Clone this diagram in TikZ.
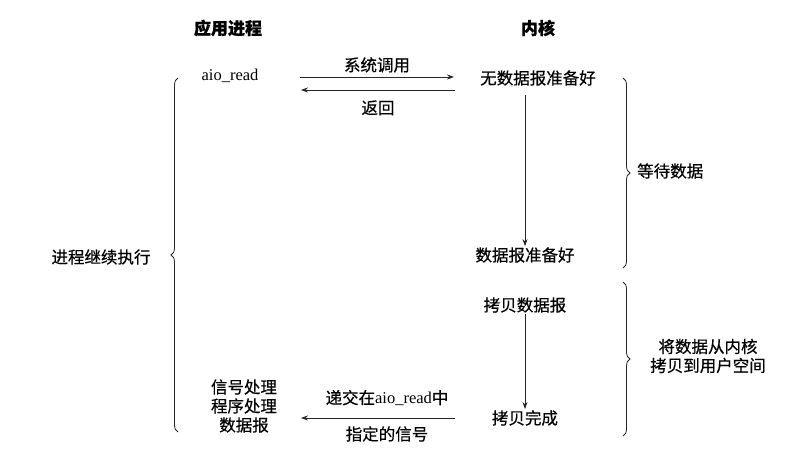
\documentclass[tikz,border=0pt]{standalone}
\usepackage{fontspec}
\setmainfont{Noto Sans CJK SC}[FakeBold=0.5]
\newfontfamily\lat{Liberation Serif}
\usetikzlibrary{arrows.meta,decorations.pathreplacing}
\begin{document}
\begin{tikzpicture}[x=1pt,y=-1pt,
  txt/.style={inner sep=1pt,font=\fontsize{16.5}{19}\selectfont},
  ttl/.style={inner sep=1pt,font=\fontsize{17}{19}\selectfont\bfseries},
  arr/.style={draw=black!85,line width=0.8pt,-{Stealth[length=7pt,width=5pt]}},
  brc/.style={draw=black!85,line width=0.8pt,decorate,decoration={brace,amplitude=7pt}}]
\useasboundingbox[fill=white] (0,0) rectangle (798,457);
% titles
\node[ttl] (tapp) at (228,28) {应用进程};
\node[ttl] (tker) at (538,28) {内核};
% left column
\node[txt] (aio) at (230,76) {\lat aio\_read};
\node[txt,align=center] (sig) at (244,406) {信号处理\\程序处理\\数据报};
% kernel column
\node[txt] (nodata) at (538,78) {无数据报准备好};
\node[txt] (ready) at (525,255) {数据报准备好};
\node[txt] (copy) at (525,305) {拷贝数据报};
\node[txt] (done) at (525,418) {拷贝完成};
% arrows top
\coordinate (s1) at (300,77);
\coordinate (e1) at (454,77);
\draw[arr] (s1) -- node[txt,above=3pt] {系统调用} (e1);
\coordinate (s2) at (455,90);
\coordinate (e2) at (301,90);
\draw[arr] (s2) -- node[txt,below=9pt] {返回} (e2);
% vertical arrows
\draw[arr] (525,95) -- (ready.north);
\draw[arr] (copy.south) -- (done.north);
% bottom arrow
\coordinate (s3) at (455,418);
\coordinate (e3) at (301,418);
\draw[arr] (s3) -- (e3);
\node[txt] (deliv) at (387,398) {递交在{\lat aio\_read}中};
\node[txt] (spec) at (387,434) {指定的信号};
% braces
\draw[brc] (623,78) -- (623,268);
\node[txt,anchor=west] (wait) at (636,171) {等待数据};
\draw[brc] (623,282) -- (623,436);
\node[txt,align=center] (cp) at (708,356) {将数据从内核\\拷贝到用户空间};
\draw[brc] (178,432) -- (178,78);
\node[txt] (cont) at (101,257) {进程继续执行};
\end{tikzpicture}
\end{document}
